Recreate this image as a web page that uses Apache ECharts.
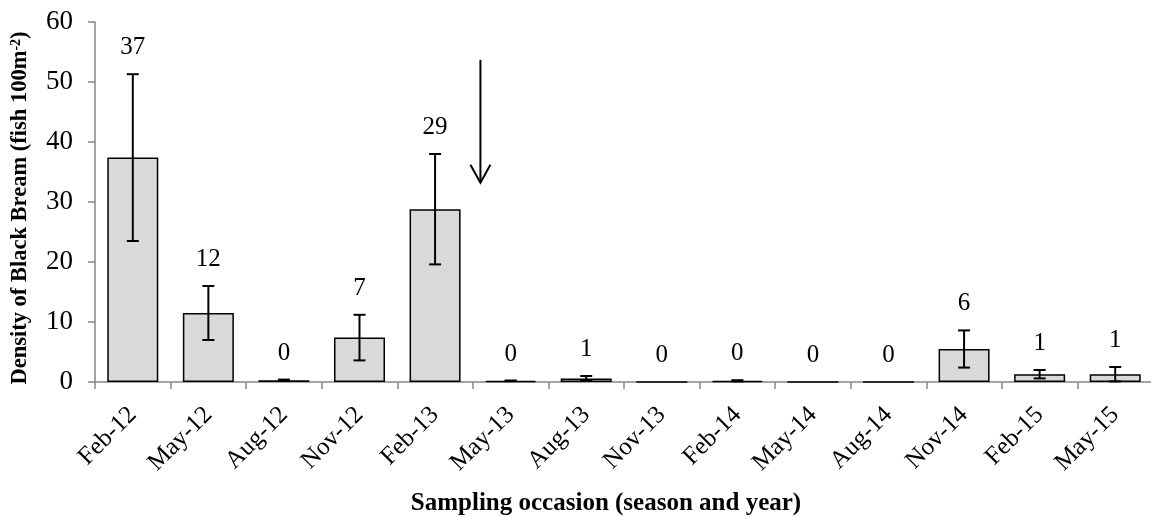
<!DOCTYPE html>
<html><head><meta charset="utf-8">
<script src="https://cdn.jsdelivr.net/npm/echarts@6/dist/echarts.min.js"></script>
<style>html,body{margin:0;padding:0;background:#fff}#c{width:1151px;height:517px}</style>
</head><body><div id="c"></div>
<script>
const categories = ['Feb-12','May-12','Aug-12','Nov-12','Feb-13','May-13','Aug-13','Nov-13','Feb-14','May-14','Aug-14','Nov-14','Feb-15','May-15'];
const density = [37.4, 11.5, 0.3, 7.4, 28.8, 0.2, 0.6, 0, 0.2, 0, 0, 5.5, 1.3, 1.3];
const errors  = [13.9, 4.5, 0.1, 3.8, 9.2, 0.05, 0.4, 0, 0.1, 0, 0, 3.1, 0.7, 1.2];
const labels  = ['37','12','0','7','29','0','1','0','0','0','0','6','1','1'];
const yTicks  = [0, 10, 20, 30, 40, 50, 60];
const arrowCategory = 5;
const arrowFrom = 53.7;
const arrowTo = 33.2;

const FONT = 'Liberation Serif';
const chart = echarts.init(document.getElementById('c'), null, {renderer: 'canvas'});

chart.setOption({
  animation: false,
  backgroundColor: '#fff',
  grid: {left: 95, top: 22, width: 1058, height: 360, containLabel: false, outerBoundsMode: 'none'},
  xAxis: {
    type: 'category',
    data: categories,
    boundaryGap: true,
    axisLine: {lineStyle: {color: '#868686', width: 1.5}},
    axisTick: {show: true, alignWithLabel: false, interval: 0, length: 7, lineStyle: {color: '#868686', width: 1.5}},
    axisLabel: {interval: 0, rotate: 45, margin: 29, fontSize: 25, fontFamily: FONT, color: '#000'},
    name: 'Sampling occasion (season and year)',
    nameLocation: 'middle',
    nameGap: 109,
    nameTextStyle: {fontFamily: FONT, fontWeight: 'bold', fontSize: 25, color: '#000', padding: [0, 36, 0, 0]}
  },
  yAxis: {
    type: 'value',
    min: yTicks[0],
    max: yTicks[yTicks.length - 1],
    interval: yTicks[1] - yTicks[0],
    splitLine: {show: false},
    axisLine: {show: true, lineStyle: {color: '#868686', width: 1.5}},
    axisTick: {show: true, length: 7, lineStyle: {color: '#868686', width: 1.5}},
    axisLabel: {margin: 22, fontSize: 27, fontFamily: FONT, color: '#000'},
    name: 'Density of Black Bream (fish 100m{sup|-2})',
    nameLocation: 'middle',
    nameGap: 63,
    nameTextStyle: {
      fontFamily: FONT, fontWeight: 'bold', fontSize: 22.5, color: '#000', padding: [0, 12, 0, 0],
      rich: {sup: {fontFamily: FONT, fontWeight: 'bold', fontSize: 14, color: '#000', verticalAlign: 'top', padding: [0, 0, 8, 0]}}
    }
  },
  series: [
    {
      type: 'bar',
      data: density,
      barWidth: 51,
      itemStyle: {color: '#d9d9d9', borderColor: '#000', borderWidth: 1.5},
      z: 2
    },
    {
      type: 'custom',
      data: density.map((v, i) => [i, v, errors[i]]),
      encode: {x: 0, y: 1},
      z: 3,
      renderItem: function (params, api) {
        const i = api.value(0), v = api.value(1), e = api.value(2);
        if (!e) return {type: 'group', children: []};
        const hi = api.coord([i, v + e]);
        const lo = api.coord([i, v - e]);
        const w = 6;
        const st = {stroke: '#000', lineWidth: 2};
        return {type: 'group', children: [
          {type: 'line', shape: {x1: hi[0], y1: hi[1], x2: lo[0], y2: lo[1]}, style: st},
          {type: 'line', shape: {x1: hi[0] - w, y1: hi[1], x2: hi[0] + w, y2: hi[1]}, style: st},
          {type: 'line', shape: {x1: lo[0] - w, y1: lo[1], x2: lo[0] + w, y2: lo[1]}, style: st}
        ]};
      }
    },
    {
      type: 'scatter',
      data: density.map((v, i) => [i, v + errors[i]]),
      symbolSize: 0,
      silent: true,
      itemStyle: {opacity: 1},
      label: {
        show: true, position: 'top', distance: 14,
        formatter: p => labels[p.dataIndex],
        fontFamily: FONT, fontSize: 25, color: '#000', opacity: 1
      },
      z: 4
    },
    {
      type: 'custom',
      data: [[arrowCategory, arrowFrom, arrowTo]],
      encode: {x: 0, y: 1},
      z: 5,
      renderItem: function (params, api) {
        const c = api.value(0);
        const top = api.coord([c, api.value(1)]);
        const tip = api.coord([c, api.value(2)]);
        const x = top[0] - api.size([1, 0])[0] * 0.4;
        const st = {stroke: '#000', lineWidth: 2};
        return {type: 'group', children: [
          {type: 'line', shape: {x1: x, y1: top[1], x2: x, y2: tip[1]}, style: st},
          {type: 'polyline', shape: {points: [[x - 10, tip[1] - 18], [x, tip[1]], [x + 10, tip[1] - 18]]}, style: {stroke: '#000', lineWidth: 2, fill: null}}
        ]};
      }
    }
  ]
});
</script>
</body></html>
